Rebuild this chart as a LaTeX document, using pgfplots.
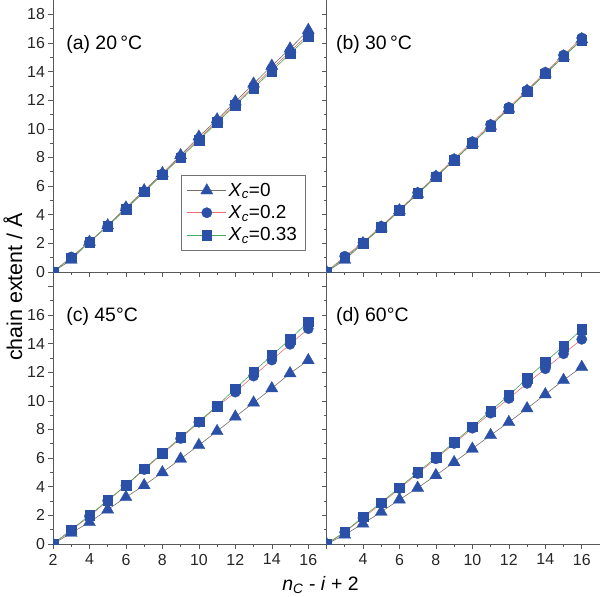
\documentclass[border=0pt]{standalone}
\usepackage{pgfplots}
\usepackage{pgfplotstable}
\pgfplotsset{compat=1.18}
\usepgfplotslibrary{groupplots}
\usetikzlibrary{calc}
\usepackage{fontspec}
\setmainfont{Liberation Sans}
\definecolor{mk}{RGB}{42,80,168}
\definecolor{lgray}{RGB}{120,110,100}
\definecolor{lred}{RGB}{235,110,110}
\definecolor{lgreen}{RGB}{70,170,90}

\pgfplotstableread{
x  s0    s2    s3
2  0     0     0
3  0.85  1.05  1.00
4  2.10  2.10  2.10
5  3.25  3.20  3.20
6  4.50  4.45  4.40
7  5.70  5.60  5.60
8  6.90  6.85  6.80
9  8.15  8.05  8.00
10 9.45  9.30  9.20
11 10.65 10.55 10.45
12 11.90 11.75 11.65
13 13.15 12.95 12.85
14 14.40 14.20 14.05
15 15.60 15.40 15.25
16 16.90 16.60 16.45
}\dataA
\pgfplotstableread{
x  s0    s2    s3
2  0     0     0
3  0.85  1.10  1.00
4  2.00  2.05  2.00
5  3.10  3.20  3.15
6  4.30  4.35  4.30
7  5.45  5.55  5.50
8  6.65  6.70  6.65
9  7.80  7.90  7.80
10 9.00  9.10  9.00
11 10.20 10.30 10.20
12 11.40 11.50 11.40
13 12.65 12.70 12.60
14 13.85 13.95 13.85
15 15.05 15.15 15.05
16 16.25 16.35 16.20
}\dataB
\pgfplotstableread{
x  s0    s2    s3
2  0     0     0
3  0.77  0.96  1.00
4  1.52  1.94  2.00
5  2.40  3.03  3.05
6  3.27  4.08  4.10
7  4.10  5.20  5.25
8  5.00  6.30  6.35
9  5.95  7.37  7.45
10 6.90  8.51  8.55
11 7.88  9.59  9.65
12 8.89  10.61 10.85
13 9.87  11.73 12.03
14 10.87 12.85 13.18
15 11.92 13.95 14.30
16 12.83 15.04 15.53
}\dataC
\pgfplotstableread{
x  s0    s2    s3
2  0     0     0
3  0.65  0.82  0.85
4  1.42  1.82  1.90
5  2.24  2.82  2.90
6  3.10  3.87  3.95
7  3.92  4.92  5.00
8  4.80  5.95  6.05
9  5.71  7.02  7.10
10 6.65  8.09  8.20
11 7.60  9.14  9.30
12 8.51  10.17 10.38
13 9.47  11.22 11.57
14 10.45 12.24 12.71
15 11.45 13.29 13.83
16 12.36 14.30 15.00
}\dataD

\pgfplotsset{
  s0/.style={color=lgray, line width=0.6bp, mark=triangle*, mark size=7bp, mark options={fill=mk, draw=mk, line width=0.3bp}},
  s2/.style={color=lred, line width=0.6bp, mark=*, mark size=5.2bp, mark options={fill=mk, draw=mk, line width=0.3bp}},
  s3/.style={color=lgreen, line width=0.6bp, mark=square*, mark size=4.8bp, mark options={fill=mk, draw=mk, line width=0.3bp}},
}

\begin{document}
\begin{tikzpicture}
\begin{groupplot}[
  group style={group size=2 by 2, horizontal sep=0pt, vertical sep=0pt},
  scale only axis, width=273.5bp, height=272bp,
  xmin=2, xmax=17, ymin=0, ymax=19,
  axis lines*=left,
  clip mode=individual, clip marker paths=true,
  axis line style={draw=black!65, line width=0.8bp, -},
  every tick/.style={draw=black!65, line width=0.6bp},
  tick align=outside,
  major tick length=4.5bp, minor tick length=2.5bp,
  minor x tick num=1, minor y tick num=1,
  xtick={2,4,...,16}, ytick={0,2,...,18},
  tick label style={font=\fontsize{16}{19}\selectfont, text=black!85},
  xticklabel style={yshift=-2bp},
  /pgf/number format/assume math mode=true,
  legend image code/.code={\draw[mark repeat=2,mark phase=2] plot coordinates {(0bp,0bp) (19.5bp,0bp) (39bp,0bp)};},
]
\nextgroupplot[xticklabels={},
  legend style={at={(rel axis cs:0.467,0.357)}, anchor=north west, draw=black!55, line width=0.6bp, fill=white, font=\fontsize{19}{21}\selectfont, inner xsep=6bp, inner ysep=6bp, row sep=3.5bp},
  legend cell align=left]
\addplot[s0] table[x=x,y=s0] {\dataA};
\addplot[s2] table[x=x,y=s2] {\dataA};
\addplot[s3] table[x=x,y=s3] {\dataA};
\node[anchor=west, font=\fontsize{19.5}{23}\selectfont] at (rel axis cs:0.036,0.835) {(a) 20\,°C};
\legend{\textit{X}\textsubscript{\textit{c}}=0, \textit{X}\textsubscript{\textit{c}}=0.2, \textit{X}\textsubscript{\textit{c}}=0.33}

\nextgroupplot[xticklabels={}, yticklabels={}]
\addplot[s0] table[x=x,y=s0] {\dataB};
\addplot[s2] table[x=x,y=s2] {\dataB};
\addplot[s3] table[x=x,y=s3] {\dataB};
\node[anchor=west, font=\fontsize{19.5}{23}\selectfont] at (rel axis cs:0.022,0.835) {(b) 30\,°C};

\nextgroupplot[yticklabels={0,2,4,6,8,10,12,14,16,}]
\addplot[s0] table[x=x,y=s0] {\dataC};
\addplot[s2] table[x=x,y=s2] {\dataC};
\addplot[s3] table[x=x,y=s3] {\dataC};
\node[anchor=west, font=\fontsize{19.5}{23}\selectfont] at (rel axis cs:0.036,0.835) {(c) 45°C};

\nextgroupplot[yticklabels={}, xticklabels={,4,6,8,10,12,14,16}]
\addplot[s0] table[x=x,y=s0] {\dataD};
\addplot[s2] table[x=x,y=s2] {\dataD};
\addplot[s3] table[x=x,y=s3] {\dataD};
\node[anchor=west, font=\fontsize{19.5}{23}\selectfont] at (rel axis cs:0.022,0.835) {(d) 60°C};
\end{groupplot}
\node[rotate=90, font=\fontsize{21.5}{25}\selectfont] at ($(group c1r1.south west)+(-40bp,-15bp)$) {chain extent / Å};
\node[anchor=base, font=\fontsize{19.5}{23}\selectfont] at ($(group c1r2.south east)+(-6bp,-46bp)$) {\textit{n}\textsubscript{\textit{C}} - \textit{i} + 2};
\pgfresetboundingbox
\path ($(group c1r1.north west)+(-53bp,0)$) rectangle ($(group c2r2.south east)+(0,-53bp)$);
\end{tikzpicture}
\end{document}
